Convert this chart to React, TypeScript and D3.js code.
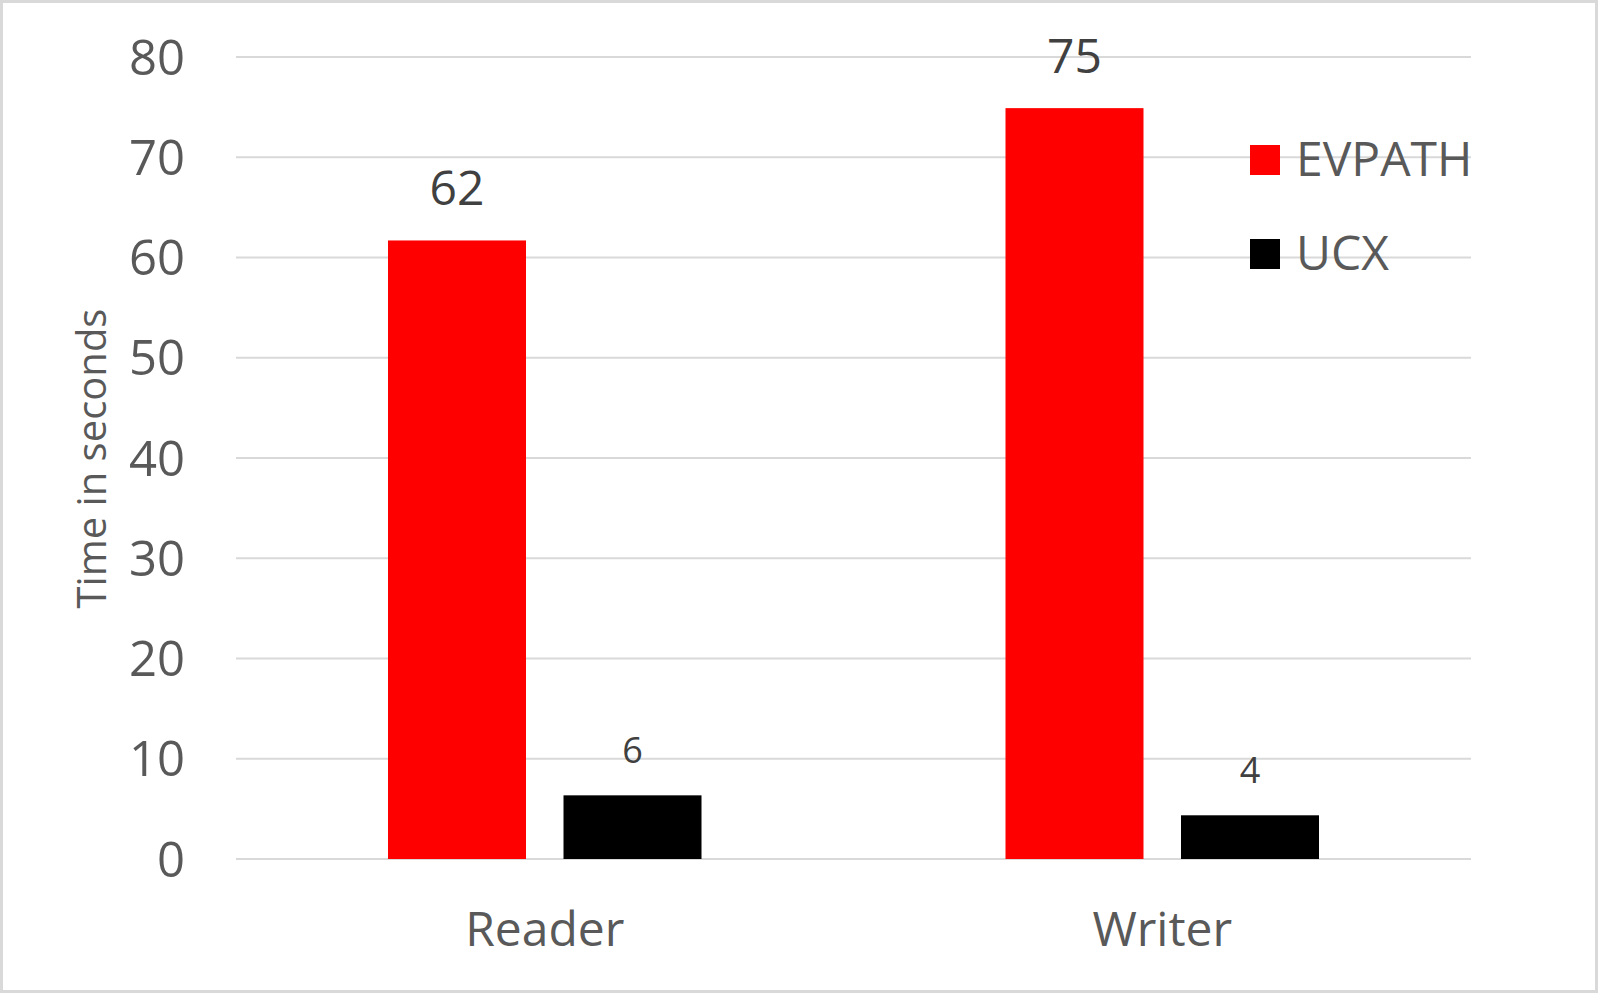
import { scaleBand, scaleLinear } from "d3";

const categories = ["Reader", "Writer"];
const seriesNames = ["EVPATH", "UCX"];
const evpath = [61.7, 74.9];
const ucx = [6.35, 4.36];
const yTicks = [0, 10, 20, 30, 40, 50, 60, 70, 80];

const W = 1598;
const H = 993;
const colors = ["#ff0000", "#000000"];
const font = "'Open Sans', 'Noto Sans', sans-serif";

function App() {
  const seriesValues = [evpath, ucx];

  const x0 = scaleBand<string>().domain(categories).range([236, 1471]).padding(0);
  const groupWidth = 313.5;
  const x1 = scaleBand<string>()
    .domain(seriesNames)
    .range([0, groupWidth])
    .paddingInner(0.2137)
    .paddingOuter(0);
  const y = scaleLinear().domain([0, 80]).range([859, 57]);

  const groupStart = (c: string) =>
    (x0(c) as number) + (x0.bandwidth() - groupWidth) / 2;

  return (
    <svg
      width={W}
      height={H}
      style={{ position: "absolute", left: 0, top: 0, background: "#fff" }}
      fontFamily={font}
    >
      <rect x={0} y={0} width={W} height={H} fill="#fff" />

      {/* gridlines */}
      {yTicks.map((t) => (
        <line
          key={"g" + t}
          x1={236}
          x2={1471}
          y1={y(t)}
          y2={y(t)}
          stroke="#d9d9d9"
          strokeWidth={2}
        />
      ))}

      {/* y tick labels */}
      {yTicks.map((t) => (
        <text
          key={"t" + t}
          x={185}
          y={y(t) + 17.5}
          textAnchor="end"
          fontSize={49}
          fill="#595959"
        >
          {t}
        </text>
      ))}

      {/* bars */}
      {seriesNames.map((s, si) =>
        categories.map((c, ci) => {
          const v = seriesValues[si][ci];
          const bx = groupStart(c) + (x1(s) as number);
          return (
            <rect
              key={s + c}
              x={bx}
              y={y(v)}
              width={x1.bandwidth()}
              height={y(0) - y(v)}
              fill={colors[si]}
            />
          );
        })
      )}

      {/* data labels */}
      {seriesNames.map((s, si) =>
        categories.map((c, ci) => {
          const v = seriesValues[si][ci];
          const cx = groupStart(c) + (x1(s) as number) + x1.bandwidth() / 2;
          const big = si === 0;
          return (
            <text
              key={"l" + s + c}
              x={cx}
              y={y(v) - (big ? 35 : 32)}
              textAnchor="middle"
              fontSize={big ? 48 : 36}
              fill="#404040"
            >
              {Math.round(v)}
            </text>
          );
        })
      )}

      {/* category labels */}
      {categories.map((c) => (
        <text
          key={"c" + c}
          x={(x0(c) as number) + x0.bandwidth() / 2}
          y={946}
          textAnchor="middle"
          fontSize={48}
          fill="#595959"
        >
          {c}
        </text>
      ))}

      {/* axis title */}
      <text
        transform="translate(106,458.5) rotate(-90)"
        textAnchor="middle"
        fontSize={40}
        fill="#595959"
      >
        Time in seconds
      </text>

      {/* legend */}
      {seriesNames.map((s, i) => (
        <g key={"lg" + s} transform={`translate(1250,${145 + i * 94})`}>
          <rect x={0} y={0} width={30} height={30} fill={colors[i]} />
          <text x={46} y={31} fontSize={48} fill="#595959">
            {s}
          </text>
        </g>
      ))}

      {/* outer border */}
      <rect
        x={1.5}
        y={1.5}
        width={W - 3}
        height={H - 3}
        fill="none"
        stroke="#d9d9d9"
        strokeWidth={3}
      />
    </svg>
  );
}

export default App;
